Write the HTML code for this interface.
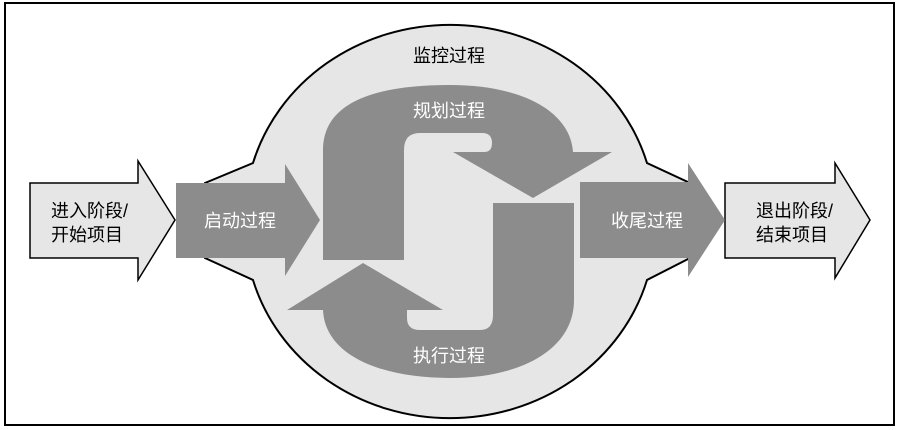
<!DOCTYPE html>
<html><head><meta charset="utf-8"><style>
html,body{margin:0;padding:0;background:#fff;}
svg{display:block;}
text{font-family:"Liberation Sans","Noto Sans CJK SC",sans-serif;font-size:18px;}
</style></head><body>
<svg width="900" height="430" viewBox="0 0 900 430">
<rect x="5" y="3" width="889" height="422" fill="#fff" stroke="#000" stroke-width="2"/>
<path d="M253,163 A205,191 0 0 1 647,163 L690,183 L690,258 L647,280 A205,191 0 0 1 253,280 L205,258 L205,183 Z" fill="#e6e6e6" stroke="#000" stroke-width="2"/>
<path d="M30,183 L138,183 L138,161 L175,220 L138,280 L138,258 L30,258 Z" fill="#e6e6e6" stroke="#000" stroke-width="1.5"/>
<path d="M725,183 L835,183 L835,163 L870,220 L835,278 L835,258 L725,258 Z" fill="#e6e6e6" stroke="#000" stroke-width="1.5"/>
<path d="M176,183 L285,183 L285,164 L320,220 L285,276 L285,258 L176,258 Z" fill="#8c8c8c"/>
<path d="M580,182 L688,182 L688,163 L725,220 L688,277 L688,258 L580,258 Z" fill="#8c8c8c"/>
<path d="M323,260 L323,150 C323,100 380,85 450,85 C520,85 570,110 573,152 L612,152 L533,198 L453,152 L484,152 Q492,152 492,143 Q492,133 482,133 L420,133 Q404,133 404,150 L404,260 Z" fill="#8c8c8c"/>
<path d="M493,203 L574,203 L574,300 C574,350 520,378 450,378 C380,378 325,355 323,310 L287,310 L363,263 L443,310 L407,310 L407,318 Q407,330 420,330 L480,330 Q493,330 493,315 Z" fill="#8c8c8c"/>
<text x="449" y="62" text-anchor="middle" fill="#000">监控过程</text>
<text x="449" y="117" text-anchor="middle" fill="#fff">规划过程</text>
<text x="449" y="362" text-anchor="middle" fill="#fff">执行过程</text>
<text x="240" y="227" text-anchor="middle" fill="#fff">启动过程</text>
<text x="647" y="227" text-anchor="middle" fill="#fff">收尾过程</text>
<text x="51" y="217" fill="#000">进入阶段/</text>
<text x="51" y="241" fill="#000">开始项目</text>
<text x="756" y="217" fill="#000">退出阶段/</text>
<text x="756" y="241" fill="#000">结束项目</text>
</svg>
</body></html>
